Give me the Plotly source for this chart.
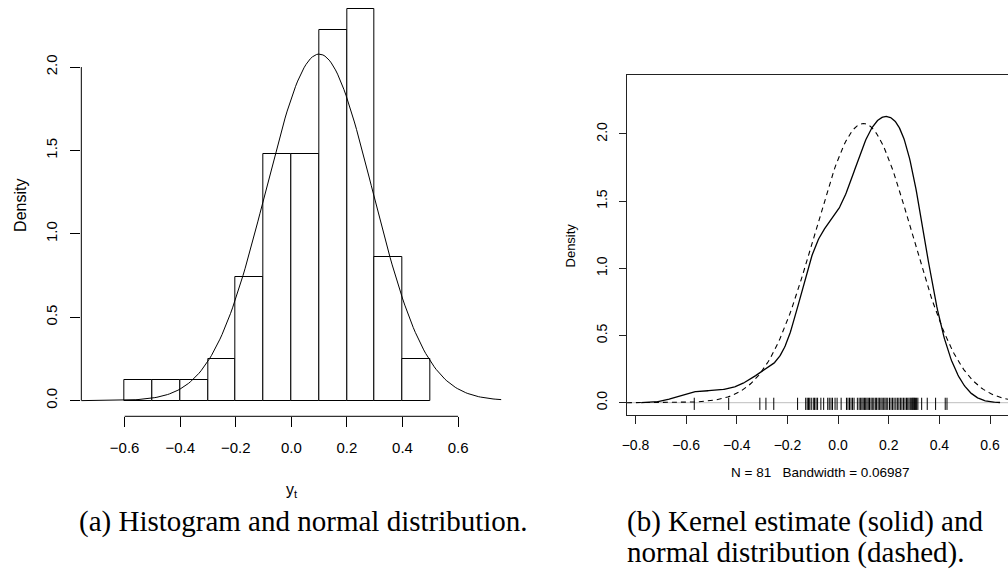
import numpy as np
import plotly.graph_objects as go

W, H = 1008, 569

# ---- data ----
y_obs = [-0.568, -0.432, -0.309, -0.285, -0.254,
         -0.160, -0.128, -0.122, -0.117, -0.112, -0.106,
         -0.098, -0.093, -0.087, -0.081, -0.068, -0.057, -0.041, -0.035, -0.028, -0.022, -0.012, -0.004,
         0.012, 0.033, 0.039, 0.045, 0.051, 0.057, 0.063, 0.076, 0.083, 0.089, 0.094, 0.099,
         0.104, 0.109, 0.114, 0.119, 0.124, 0.130, 0.135, 0.141, 0.147, 0.152, 0.158, 0.163, 0.169, 0.174,
         0.180, 0.185, 0.190, 0.196,
         0.203, 0.209, 0.215, 0.221, 0.228, 0.234, 0.240, 0.246, 0.252, 0.258, 0.264, 0.270, 0.275, 0.280,
         0.285, 0.289, 0.293, 0.296, 0.299,
         0.302, 0.306, 0.310, 0.315, 0.330, 0.352, 0.385,
         0.423, 0.430]

hist_start, hist_end, hist_size = -0.6, 0.5, 0.1
norm_mean, norm_sd = 0.10, 0.192
bandwidth = 0.06987

left_xticks = [-0.6, -0.4, -0.2, 0.0, 0.2, 0.4, 0.6]
left_yticks = [0.0, 0.5, 1.0, 1.5, 2.0]
right_xticks = [-0.8, -0.6, -0.4, -0.2, 0.0, 0.2, 0.4, 0.6]
right_yticks = [0.0, 0.5, 1.0, 1.5, 2.0]

left_xlim = [-0.756, 0.756]
left_ylim = [-0.0938, 2.402]
right_xlim = [-0.834, 0.6709]
right_xlim_full = [-0.834, 0.696]
right_ylim = [-0.0916, 2.4391]

caption_a = "(a) Histogram and normal distribution."
caption_b1 = "(b) Kernel estimate (solid) and"
caption_b2 = "normal distribution (dashed)."
kde_label = "N = 81\u00a0\u00a0\u00a0Bandwidth = 0.06987"

SANS = "Liberation Sans, Arial, Helvetica, sans-serif"
SERIF = "Liberation Serif, Times New Roman, serif"


def fmt(v):
    s = f"{abs(v):.1f}"
    return ("\u2212" + s) if v < 0 else s


def px(x):
    return x / W


def py(y):
    return 1 - y / H


y_arr = np.array(y_obs)
n = len(y_arr)


def dnorm(x, m, s):
    return np.exp(-0.5 * ((x - m) / s) ** 2) / (s * np.sqrt(2 * np.pi))


# left: normal curve over the plot range
xl = np.linspace(left_xlim[0], left_xlim[1], 201)
yl = dnorm(xl, norm_mean, norm_sd)

# right: gaussian kernel density
xg = np.linspace(y_arr.min() - 3 * bandwidth, y_arr.max() + 3 * bandwidth, 512)
kde = dnorm(xg[:, None], y_arr[None, :], bandwidth).sum(axis=1) / n
xr = np.linspace(right_xlim_full[0], right_xlim_full[1], 201)
yr = dnorm(xr, norm_mean, norm_sd)

# rug
rug_x, rug_y = [], []
for v in y_obs:
    rug_x += [v, v, None]
    rug_y += [-0.054, 0.037, None]

fig = go.Figure()

fig.add_trace(go.Histogram(
    x=y_obs, histnorm="probability density",
    xbins=dict(start=hist_start, end=hist_end, size=hist_size),
    marker=dict(color="white", line=dict(color="black", width=1)),
    xaxis="x", yaxis="y", hoverinfo="skip"))
fig.add_trace(go.Scatter(x=xl, y=yl, mode="lines",
                         line=dict(color="black", width=1),
                         xaxis="x", yaxis="y", hoverinfo="skip"))

fig.add_trace(go.Scatter(x=rug_x, y=rug_y, mode="lines",
                         line=dict(color="black", width=1),
                         xaxis="x2", yaxis="y2", hoverinfo="skip"))
fig.add_trace(go.Scatter(x=xr, y=yr, mode="lines",
                         line=dict(color="black", width=1.1, dash="5px,4px"),
                         xaxis="x2", yaxis="y2", hoverinfo="skip"))
fig.add_trace(go.Scatter(x=xg, y=kde, mode="lines",
                         line=dict(color="black", width=1.3),
                         xaxis="x2", yaxis="y2", hoverinfo="skip"))

tickfont_l = dict(family=SANS, size=15, color="black")
tickfont_r = dict(family=SANS, size=14, color="black")

fig.update_layout(
    width=W, height=H,
    margin=dict(l=0, r=0, t=0, b=0),
    paper_bgcolor="white", plot_bgcolor="white",
    showlegend=False, bargap=0,
    xaxis=dict(domain=[px(76.7), px(498.9)], range=left_xlim, anchor="y",
               showgrid=False, zeroline=False, showline=False,
               tickmode="array", tickvals=left_xticks, ticktext=[fmt(v) for v in left_xticks],
               ticks="outside", ticklen=10, tickwidth=1, tickcolor="black",
               ticklabelstandoff=8, tickfont=tickfont_l),
    yaxis=dict(domain=[py(416.3), 1.0], range=left_ylim, anchor="x",
               showgrid=False, zeroline=False, showline=False,
               tickmode="array", tickvals=left_yticks, ticktext=[fmt(v) for v in left_yticks],
               ticks="outside", ticklen=10, tickwidth=1, tickcolor="black",
               tickangle=-90, ticklabelstandoff=7, tickfont=tickfont_l),
    xaxis2=dict(domain=[px(625), 1.0], range=right_xlim, anchor="y2",
                showgrid=False, zeroline=False, showline=True, mirror=True,
                linecolor="#222222", linewidth=1,
                tickmode="array", tickvals=right_xticks, ticktext=[fmt(v) for v in right_xticks],
                ticks="outside", ticklen=8, tickwidth=1, tickcolor="#222222",
                ticklabelstandoff=9, tickfont=tickfont_r),
    yaxis2=dict(domain=[py(415), py(75)], range=right_ylim, anchor="x2",
                showgrid=False, zeroline=False, showline=True,
                linecolor="#222222", linewidth=1,
                tickmode="array", tickvals=right_yticks, ticktext=[fmt(v) for v in right_yticks],
                ticks="outside", ticklen=7, tickwidth=1, tickcolor="#222222",
                tickangle=-90, ticklabelstandoff=6, tickfont=tickfont_r),
)

# R-style axis lines for the histogram panel (span first..last tick)
fig.add_shape(type="line", xref="x", yref="y domain",
              x0=left_xticks[0], x1=left_xticks[-1], y0=0, y1=0,
              line=dict(color="black", width=1))
fig.add_shape(type="line", xref="x domain", yref="y",
              x0=0, x1=0, y0=left_yticks[0], y1=left_yticks[-1],
              line=dict(color="black", width=1))
# gray zero line in density panel
fig.add_shape(type="line", xref="x2 domain", yref="y2",
              x0=0, x1=1, y0=0, y1=0, layer="below",
              line=dict(color="#BEBEBE", width=1))

ann = [
    dict(text="Density", x=px(16), y=py(205), textangle=-90,
         font=dict(family=SANS, size=16, color="black")),
    dict(text="y<sub>t</sub>", x=px(288), y=py(490),
         font=dict(family=SANS, size=16, color="black")),
    dict(text="Density", x=px(568.3), y=py(245), textangle=-90,
         font=dict(family=SANS, size=13, color="black")),
    dict(text=kde_label, x=px(820), y=py(472.7),
         font=dict(family=SANS, size=13.5, color="black")),
    dict(text=caption_a, x=px(72), y=py(521.5), xanchor="left",
         font=dict(family=SERIF, size=29, color="black")),
    dict(text=caption_b1, x=px(623), y=py(521.5), xanchor="left",
         font=dict(family=SERIF, size=29, color="black")),
    dict(text=caption_b2, x=px(623), y=py(552.3), xanchor="left",
         font=dict(family=SERIF, size=29, color="black")),
]
for a in ann:
    a.setdefault("xanchor", "center")
    fig.add_annotation(xref="paper", yref="paper", yanchor="middle",
                       showarrow=False, **a)

fig.write_html("out.html")
